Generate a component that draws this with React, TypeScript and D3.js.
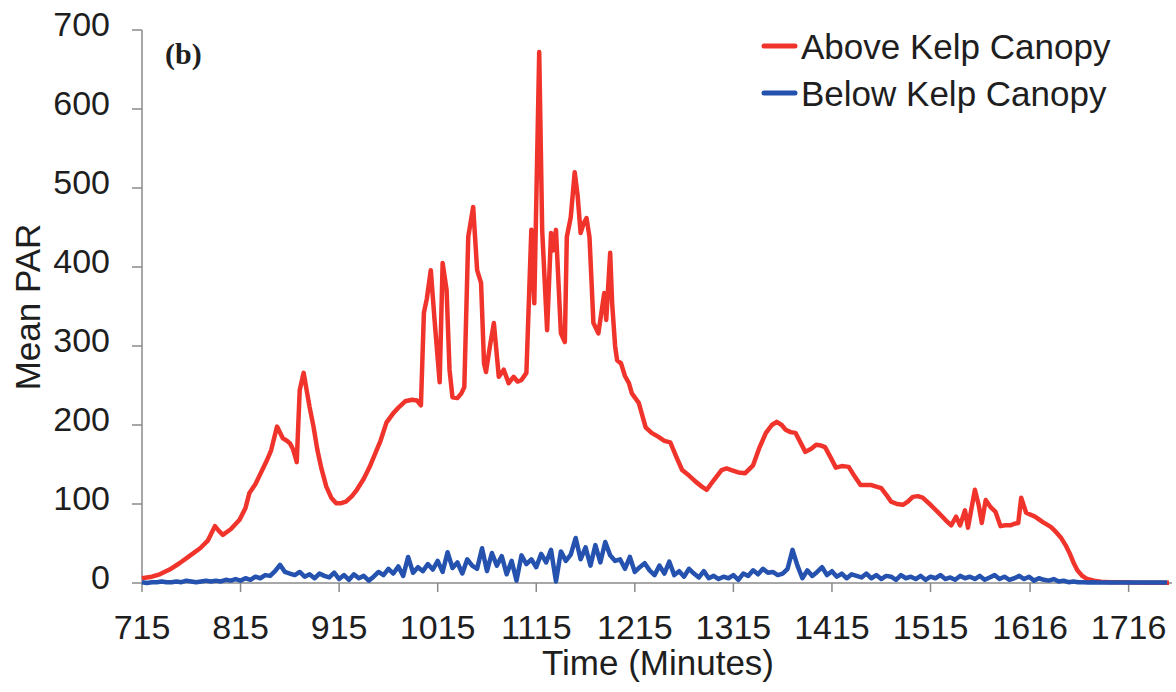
import React from "react";
import * as d3 from "d3";

// PAR above the kelp canopy: [time (minutes), mean PAR]
const aboveCanopy: [number, number][] = [
  [715, 6], [725, 8], [733, 11], [743, 17], [753, 25], [763, 34], [774, 44], [782, 54],
  [789, 72], [793, 66], [797, 61], [805, 68], [814, 80], [820, 95], [824, 114], [830, 125],
  [837, 143], [842, 156], [846, 168], [852, 198], [858, 183], [862, 180], [865, 177], [868, 170],
  [870, 162], [872, 153], [875, 244], [879, 266], [885, 223], [889, 198], [893, 168], [897, 145],
  [902, 122], [907, 108], [912, 101], [917, 101], [922, 103], [928, 110], [933, 118], [940, 132],
  [946, 147], [952, 165], [957, 180], [963, 203], [970, 215], [976, 223], [982, 230], [989, 232],
  [994, 231], [998, 225], [1001, 342], [1004, 360], [1008, 396], [1012, 330], [1017, 254], [1020, 405],
  [1024, 371], [1027, 270], [1030, 235], [1035, 234], [1039, 240], [1042, 248], [1046, 438], [1051, 476],
  [1055, 396], [1059, 380], [1062, 278], [1064, 267], [1068, 300], [1072, 329], [1077, 261], [1082, 270],
  [1087, 253], [1092, 261], [1096, 255], [1100, 257], [1105, 266], [1110, 447], [1113, 354], [1118, 672],
  [1121, 447], [1126, 320], [1130, 443], [1132, 421], [1135, 447], [1140, 316], [1144, 305], [1146, 438],
  [1150, 463], [1154, 520], [1157, 490], [1160, 443], [1163, 455], [1166, 462], [1169, 438], [1173, 329],
  [1178, 316], [1184, 367], [1186, 333], [1190, 418], [1192, 354], [1195, 300], [1197, 282], [1201, 278],
  [1205, 262], [1209, 253], [1212, 240], [1219, 228], [1226, 197], [1232, 190], [1239, 185], [1245, 180],
  [1251, 178], [1257, 160], [1263, 143], [1270, 136], [1277, 128], [1283, 122], [1288, 118], [1295, 130],
  [1303, 143], [1308, 145], [1313, 143], [1320, 140], [1327, 139], [1335, 149], [1341, 170], [1348, 190],
  [1354, 200], [1359, 204], [1364, 200], [1368, 194], [1373, 191], [1378, 190], [1383, 178], [1388, 166],
  [1394, 170], [1399, 175], [1404, 174], [1408, 172], [1414, 158], [1419, 146], [1425, 148], [1432, 147],
  [1438, 135], [1444, 124], [1450, 124], [1455, 124], [1460, 122], [1465, 120], [1470, 112], [1475, 103],
  [1481, 100], [1487, 99], [1492, 103], [1497, 109], [1502, 110], [1507, 108], [1515, 99], [1523, 89],
  [1530, 80], [1536, 73], [1541, 84], [1545, 73], [1550, 92], [1553, 70], [1560, 118], [1564, 98],
  [1567, 76], [1571, 105], [1576, 96], [1581, 90], [1586, 72], [1591, 73], [1596, 73], [1600, 75],
  [1604, 76], [1607, 108], [1612, 89], [1621, 84], [1629, 77], [1637, 71], [1642, 65], [1647, 58],
  [1652, 48], [1656, 38], [1660, 26], [1664, 16], [1669, 9], [1674, 5], [1681, 3], [1688, 1.5],
  [1698, 1], [1708, 1], [1720, 0.5], [1735, 0.3], [1757, 0.3],
];

// PAR below the kelp canopy, sampled every 5 minutes from 715
const belowStart = 715;
const belowStep = 5;
const belowCanopy: number[] = [
  1, 0, 1, 1, 2, 1, 1, 2, 1, 3, 2, 1, 2, 3, 2, 3,
  2, 4, 3, 5, 3, 6, 4, 8, 6, 10, 9,
  15, 23, 14, 12, 10, 14, 8, 11, 6, 12, 9,
  7, 13, 5, 10, 4, 11, 6, 9, 3, 8,
  14, 10, 18, 12, 21, 9, 33, 13, 20, 15,
  24, 17, 28, 14, 39, 19, 26, 12, 30, 22,
  18, 44, 15, 38, 22, 34, 11, 28, 3, 35,
  24, 30, 20, 37, 26, 42, 2, 40, 28, 36,
  57, 30, 45, 22, 48, 26, 52, 35, 28, 30,
  18, 33, 14, 20, 25, 16, 10, 22, 12, 27,
  10, 15, 8, 18, 12, 7, 15, 6, 9, 5,
  8, 6, 10, 4, 12, 9, 16, 11, 18, 13,
  14, 10, 12, 18, 42, 22, 6, 16, 9, 14,
  20, 10, 15, 8, 12, 6, 11, 9, 7, 12,
  6, 10, 5, 9, 8, 4, 10, 6, 8, 5,
  9, 4, 8, 6, 10, 5, 7, 4, 9, 6,
  8, 5, 9, 4, 7, 10, 5, 8, 4, 6,
  9, 5, 8, 3, 6, 4, 3, 5, 2, 3,
  1, 2, 1, 1, 0.5, 1, 0.5, 0.5, 0.5, 0.5,
  0.5, 0.5, 0.5, 0.5, 0.5, 0.5, 0.5, 0.5, 0.5, 0.5, 0.5,
];

const xTicks = [715, 815, 915, 1015, 1115, 1215, 1315, 1415, 1515, 1616, 1716];
const yTicks = [0, 100, 200, 300, 400, 500, 600, 700];

const seriesNames = ["Above Kelp Canopy", "Below Kelp Canopy"];
const seriesColors = ["#f0342c", "#2452ae"];

export default function App() {
  const width = 1176;
  const height = 692;
  const left = 142;
  const right = 1172;
  const top = 30;
  const bottom = 583;

  const x = d3.scaleLinear().domain([715, 1760]).range([left, right]);
  const y = d3.scaleLinear().domain([0, 700]).range([bottom, top]);

  const belowPoints: [number, number][] = belowCanopy.map((v, i) => [belowStart + i * belowStep, v]);

  const line = d3
    .line<[number, number]>()
    .x((d) => x(d[0]))
    .y((d) => y(d[1]))
    .curve(d3.curveLinear);

  const axisColor = "#8a8a8a";
  const textColor = "#1e1e1e";
  const font = "'Liberation Sans', Arial, sans-serif";

  return (
    <svg
      width={width}
      height={height}
      style={{ position: "absolute", left: 0, top: 0, background: "#fff" }}
      fontFamily={font}
    >
      {/* axes */}
      <line x1={left} x2={left} y1={top} y2={bottom} stroke={axisColor} strokeWidth={1.5} />
      <line x1={left} x2={right} y1={bottom} y2={bottom} stroke={axisColor} strokeWidth={1.5} />

      {yTicks.map((t) => (
        <g key={"y" + t}>
          <line x1={left - 10} x2={left} y1={y(t)} y2={y(t)} stroke={axisColor} strokeWidth={1.5} />
          <text
            x={110}
            y={y(t) - 6}
            textAnchor="end"
            dominantBaseline="central"
            fontSize={34}
            fill={textColor}
          >
            {t}
          </text>
        </g>
      ))}

      {xTicks.map((t) => (
        <g key={"x" + t}>
          <line x1={x(t)} x2={x(t)} y1={bottom} y2={bottom + 9} stroke={axisColor} strokeWidth={1.5} />
          <text x={x(t)} y={639} textAnchor="middle" fontSize={34} fill={textColor}>
            {t}
          </text>
        </g>
      ))}

      <text x={658} y={675} textAnchor="middle" fontSize={35} fill={textColor}>
        Time (Minutes)
      </text>
      <text
        transform={`translate(40, 307) rotate(-90)`}
        textAnchor="middle"
        fontSize={35}
        fill={textColor}
      >
        Mean PAR
      </text>

      {/* panel tag */}
      <text
        x={165}
        y={64}
        fontFamily="'Liberation Serif', 'Times New Roman', serif"
        fontWeight="bold"
        fontSize={30}
        fill={textColor}
      >
        (b)
      </text>

      {/* series */}
      <path
        d={line(aboveCanopy) ?? ""}
        fill="none"
        stroke={seriesColors[0]}
        strokeWidth={4.5}
        strokeLinejoin="round"
      />
      <path
        d={line(belowPoints) ?? ""}
        fill="none"
        stroke={seriesColors[1]}
        strokeWidth={4.5}
        strokeLinejoin="round"
      />

      {/* legend */}
      {seriesNames.map((name, i) => (
        <g key={name} transform={`translate(0, ${46 + i * 47})`}>
          <line x1={764} x2={795} y1={0} y2={0} stroke={seriesColors[i]} strokeWidth={5} strokeLinecap="round" />
          <text x={801} y={0} dominantBaseline="central" fontSize={35} fill={textColor}>
            {name}
          </text>
        </g>
      ))}
    </svg>
  );
}
